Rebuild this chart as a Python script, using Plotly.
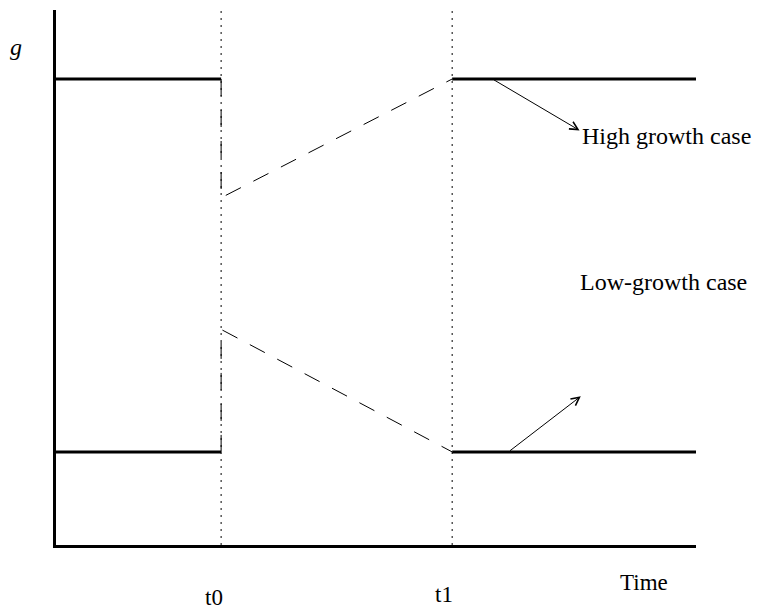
import plotly.graph_objects as go

# ---- data ----
period_labels = ["t0", "t1"]
period_times = [2.58, 6.19]
time_end = 10.0
case_names = ["High growth case", "Low-growth case"]
g_steady = [8.71, 1.74]          # long-run growth rate in each case
g_after_shock = [6.49, 4.03]     # growth right after t0

FONT = "Liberation Serif"
fig = go.Figure()

t0, t1 = period_times

# dotted vertical markers at t0 and t1
for t in period_times:
    fig.add_trace(go.Scatter(x=[t, t], y=[0, 10], mode="lines",
                             line=dict(color="black", width=1, dash="2px,5px"),
                             hoverinfo="skip"))

for g, gs in zip(g_steady, g_after_shock):
    # before t0
    fig.add_trace(go.Scatter(x=[0, t0], y=[g, g], mode="lines",
                             line=dict(color="black", width=3), hoverinfo="skip"))
    # after t1
    fig.add_trace(go.Scatter(x=[t1, time_end], y=[g, g], mode="lines",
                             line=dict(color="black", width=3), hoverinfo="skip"))
    # transition path
    fig.add_trace(go.Scatter(x=[t0, t0, t1], y=[g, gs, g], mode="lines",
                             line=dict(color="black", width=1, dash="17px,14px"),
                             hoverinfo="skip"))

annos = []
# arrows
arrow_specs = [
    (t1 + 0.63, g_steady[0], 8.18, 7.75),
    (t1 + 0.88, g_steady[1], 8.20, 2.78),
]
for xt, yt, xh, yh in arrow_specs:
    annos.append(dict(x=xh, y=yh, ax=xt, ay=yt, xref="x", yref="y",
                      axref="x", ayref="y", text="", showarrow=True,
                      arrowhead=5, arrowsize=1.6, arrowwidth=1, arrowcolor="black"))

label_pos = [(8.18, 7.65), (8.15, 4.92)]
for name, (lx, ly) in zip(case_names, label_pos):
    annos.append(dict(x=lx, y=ly, xref="x", yref="y", text=name, showarrow=False,
                      xanchor="left", yanchor="middle",
                      font=dict(family=FONT, size=24, color="black")))

# labels below / left of the axes (paper coordinates, outside plot area)
for lab, t, py, xs in zip(period_labels, period_times, [-0.099, -0.092], [-7, -8]):
    annos.append(dict(x=t / time_end, y=py, xref="paper", yref="paper", text=lab,
                      showarrow=False, xanchor="center", yanchor="middle", xshift=xs,
                      font=dict(family=FONT, size=23, color="black")))

annos.append(dict(x=0.918, y=-0.07, xref="paper", yref="paper", text="Time",
                  showarrow=False, xanchor="center", yanchor="middle",
                  font=dict(family=FONT, size=23, color="black")))
annos.append(dict(x=-0.062, y=0.93, xref="paper", yref="paper", text="<i>g</i>",
                  showarrow=False, xanchor="center", yanchor="middle",
                  font=dict(family=FONT, size=24, color="black")))

fig.update_layout(
    width=764, height=614,
    margin=dict(l=48, r=76, t=2, b=77),
    plot_bgcolor="white", paper_bgcolor="white",
    showlegend=False,
    annotations=annos,
    xaxis=dict(range=[0, time_end], showgrid=False, zeroline=False, showticklabels=False,
               ticks="", showline=True, linecolor="black", linewidth=3, fixedrange=True),
    yaxis=dict(range=[0, 10], showgrid=False, zeroline=False, showticklabels=False,
               ticks="", showline=True, linecolor="black", linewidth=3, fixedrange=True),
)

fig.write_html("out.html")
